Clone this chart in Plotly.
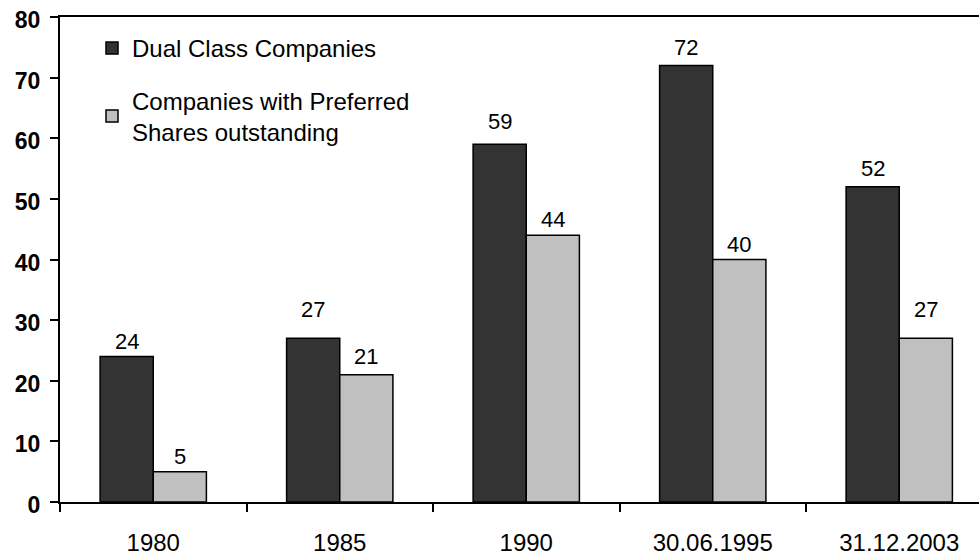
import plotly.graph_objects as go

# Number of companies per reporting date
categories = ["1980", "1985", "1990", "30.06.1995", "31.12.2003"]
dual_class = [24, 27, 59, 72, 52]
preferred = [5, 21, 44, 40, 27]
series_names = ["Dual Class Companies", "Companies with Preferred<br>Shares outstanding"]
y_ticks = [0, 10, 20, 30, 40, 50, 60, 70, 80]

W, H = 979, 557
ML, MR, MT, MB = 60, 0, 17, 55
CAT_PX = 186.5          # pixel width of one category
BARGAP = 0.43
half_off = (1 - BARGAP) / 4

FONT = "Liberation Sans, Arial, sans-serif"

fig = go.Figure()
fig.add_trace(go.Bar(
    x=categories, y=dual_class, name=series_names[0],
    marker=dict(color="#333333", line=dict(color="black", width=1.5)),
    legendgroup="a",
))
fig.add_trace(go.Bar(
    x=categories, y=preferred, name=series_names[1],
    marker=dict(color="#c0c0c0", line=dict(color="black", width=1.5)),
    legendgroup="b",
))

# value labels above each bar (gap in px between bar top and text)
dual_gaps = [7, 21, 15, 10, 10]
pref_gaps = [7, 10, 8, 7, 21]
for i, (v, g) in enumerate(zip(dual_class, dual_gaps)):
    fig.add_annotation(x=i - half_off, y=v, text=str(v), showarrow=False,
                       yanchor="middle", yshift=g + 8,
                       font=dict(family=FONT, size=22, color="black"))
for i, (v, g) in enumerate(zip(preferred, pref_gaps)):
    fig.add_annotation(x=i + half_off, y=v, text=str(v), showarrow=False,
                       yanchor="middle", yshift=g + 8,
                       font=dict(family=FONT, size=22, color="black"))

plot_w = W - ML - MR
plot_h = H - MT - MB
fig.update_layout(
    width=W, height=H,
    margin=dict(l=ML, r=MR, t=MT, b=MB, autoexpand=False),
    paper_bgcolor="white", plot_bgcolor="white",
    barmode="group", bargap=BARGAP, bargroupgap=0,
    font=dict(family=FONT, color="black"),
    legend=dict(
        xref="paper", yref="paper",
        x=(92 - ML) / plot_w, y=1 - (26 - MT) / plot_h, xanchor="left", yanchor="top",
        bgcolor="rgba(0,0,0,0)", borderwidth=0,
        font=dict(family=FONT, size=24, color="black"),
        tracegroupgap=18, itemwidth=30,
    ),
    xaxis=dict(
        type="category",
        range=[-0.5, -0.5 + plot_w / CAT_PX],
        showline=True, linecolor="black", linewidth=2, mirror=True,
        ticks="outside", tickson="boundaries", ticklen=8, tickwidth=2, tickcolor="black",
        ticklabelstandoff=18, tickangle=0,
        tickfont=dict(family=FONT, size=24, color="black"),
        showgrid=False, zeroline=False,
    ),
    yaxis=dict(
        range=[0, 80], tickvals=y_ticks,
        showline=True, linecolor="black", linewidth=2,
        ticks="outside", ticklen=8, tickwidth=2, tickcolor="black",
        ticklabelstandoff=5, ticklabelshift=3,
        tickfont=dict(family=FONT, size=23, color="black", weight="bold"),
        showgrid=False, zeroline=False,
    ),
)

fig.write_html("out.html")
